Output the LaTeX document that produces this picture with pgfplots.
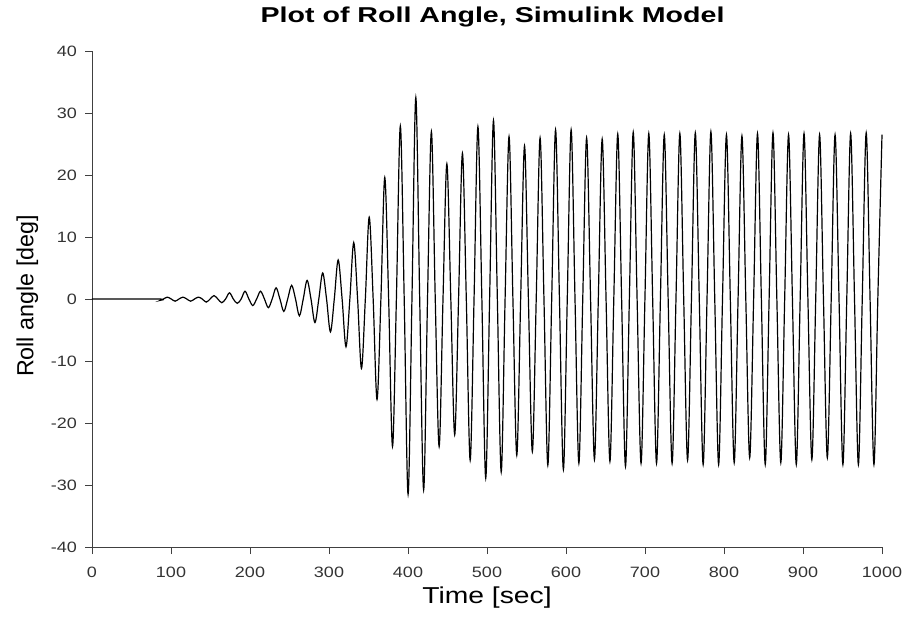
\documentclass[border=0pt]{standalone}
\usepackage{pgfplots}
\usepackage{pgfplotstable}
\pgfplotsset{compat=1.18}
\usepackage{fontspec}
\setmainfont{Liberation Sans}
\newfontfamily\titlefont[FakeStretch=1.33]{Liberation Sans}
\newfontfamily\xlabfont[FakeStretch=1.23]{Liberation Sans}
\newfontfamily\tickfont[FakeStretch=1.2]{Liberation Sans}

\pgfplotstableread{
t y
0 0
84 0
87 -0.2
90.5 0
95.4 0.3
100.3 0
105.2 -0.35
110.1 0
115.1 0.3
120.0 0
124.9 -0.35
129.8 0
134.7 0.3
139.6 0
144.6 -0.5
149.5 0
154.4 0.55
159.3 0
164.2 -0.6
169.1 0
174.0 1.0
178.9 0
183.9 -0.7
188.8 0
193.7 1.25
198.6 0
203.5 -1.05
208.4 0
213.3 1.25
218.3 0
223.2 -1.4
228.1 0
233.0 1.8
237.9 0
242.8 -2.0
247.7 0
252.7 2.2
257.6 0
262.5 -2.7
267.4 0
272.3 3.0
277.2 0
282.2 -3.8
287.1 0
292.0 4.2
296.9 0
301.8 -5.3
306.7 0
311.6 6.3
316.6 0
321.5 -7.7
326.4 0
331.3 9.1
336.2 0
341.1 -11.2
346.0 0
350.9 13.2
355.9 0
360.8 -16.2
365.7 0
370.6 19.6
375.5 0
380.4 -23.8
385.3 0
390.3 27.9
395.2 0
400.1 -31.5
405.0 0
409.9 32.5
414.8 0
419.8 -30.8
424.7 0
429.6 27.0
434.5 0
439.4 -23.8
444.3 0
449.2 21.8
454.2 0
459.1 -21.9
464.0 0
468.9 23.5
473.8 0
478.7 -26.0
483.6 0
488.5 27.8
493.5 0
498.4 -28.9
503.3 0
508.2 28.8
513.1 0
518.0 -27.9
522.9 0
527.9 26.2
532.8 0
537.7 -25.2
542.6 0
547.5 24.7
552.4 0
557.4 -24.6
562.3 0
567.2 26.0
572.1 0
577.0 -26.8
581.9 0
586.8 27.3
591.7 0
596.7 -27.5
601.6 0
606.5 27.3
611.4 0
616.3 -26.5
621.2 0
626.1 26.0
631.1 0
636.0 -25.9
640.9 0
645.8 25.8
650.7 0
655.6 -26.2
660.5 0
665.5 26.6
670.4 0
675.3 -27.0
680.2 0
685.1 26.9
690.0 0
695.0 -26.5
699.9 0
704.8 26.7
709.7 0
714.6 -26.5
719.5 0
724.4 26.5
729.3 0
734.3 -26.5
739.2 0
744.1 26.7
749.0 0
753.9 -26.0
758.8 0
763.7 26.8
768.7 0
773.6 -26.7
778.5 0
783.4 27.0
788.3 0
793.2 -26.7
798.1 0
803.1 26.5
808.0 0
812.9 -26.4
817.8 0
822.7 26.3
827.6 0
832.5 -25.6
837.5 0
842.4 26.7
847.3 0
852.2 -26.7
857.1 0
862.0 26.8
866.9 0
871.9 -26.4
876.8 0
881.7 26.5
886.6 0
891.5 -26.7
896.4 0
901.3 26.7
906.2 0
911.2 -25.9
916.1 0
921.0 26.5
925.9 0
930.8 -25.6
935.7 0
940.6 26.5
945.6 0
950.5 -26.7
955.4 0
960.3 26.7
965.2 0
970.1 -26.7
975.0 0
980.0 26.8
984.9 0
989.8 -26.7
994.7 0
1000 26.5
}\rolldata

\begin{document}
\begin{tikzpicture}
\useasboundingbox (-92pt,-72pt) rectangle (815pt,547pt);
\begin{axis}[
  at={(0pt,0pt)}, anchor=south west,
  scale only axis, width=790pt, height=496pt,
  xmin=0, xmax=1000, ymin=-40, ymax=40,
  axis lines*=left,
  axis line style={-, black!75, line width=0.8pt},
  tick align=outside,
  xtick pos=left, ytick pos=left,
  xtick={0,100,...,1000},
  ytick={-40,-30,...,40},
  major tick length=7pt,
  tick style={black!75, line width=0.8pt},
  /pgf/number format/assume math mode=true,
  /pgf/number format/1000 sep={},
  xticklabel style={font=\tickfont\fontsize{15}{15}\selectfont, text=black!80, anchor=base, yshift=-23pt, inner sep=0pt},
  yticklabel style={font=\tickfont\fontsize{15}{15}\selectfont, text=black!80, anchor=east, xshift=-8pt, inner sep=0pt},
  title={\titlefont\bfseries\fontsize{21.5}{21.5}\selectfont Plot of Roll Angle, Simulink Model},
  title style={at={(axis description cs:0.507,1.0458)}, anchor=base, inner sep=0pt},
  xlabel={\xlabfont\fontsize{23}{23}\selectfont Time [sec]},
  xlabel style={at={(axis description cs:0.5,-0.1149)}, anchor=base, inner sep=0pt},
  ylabel={\fontsize{23.3}{23.3}\selectfont Roll angle [deg]},
  ylabel style={at={(axis description cs:-0.0743,0.506)}, anchor=base, rotate=0, inner sep=0pt},
  clip=false,
]
\addplot[black, line width=1.2pt, smooth, tension=0.55] table[x=t, y=y] {\rolldata};
\end{axis}
\end{tikzpicture}
\end{document}
